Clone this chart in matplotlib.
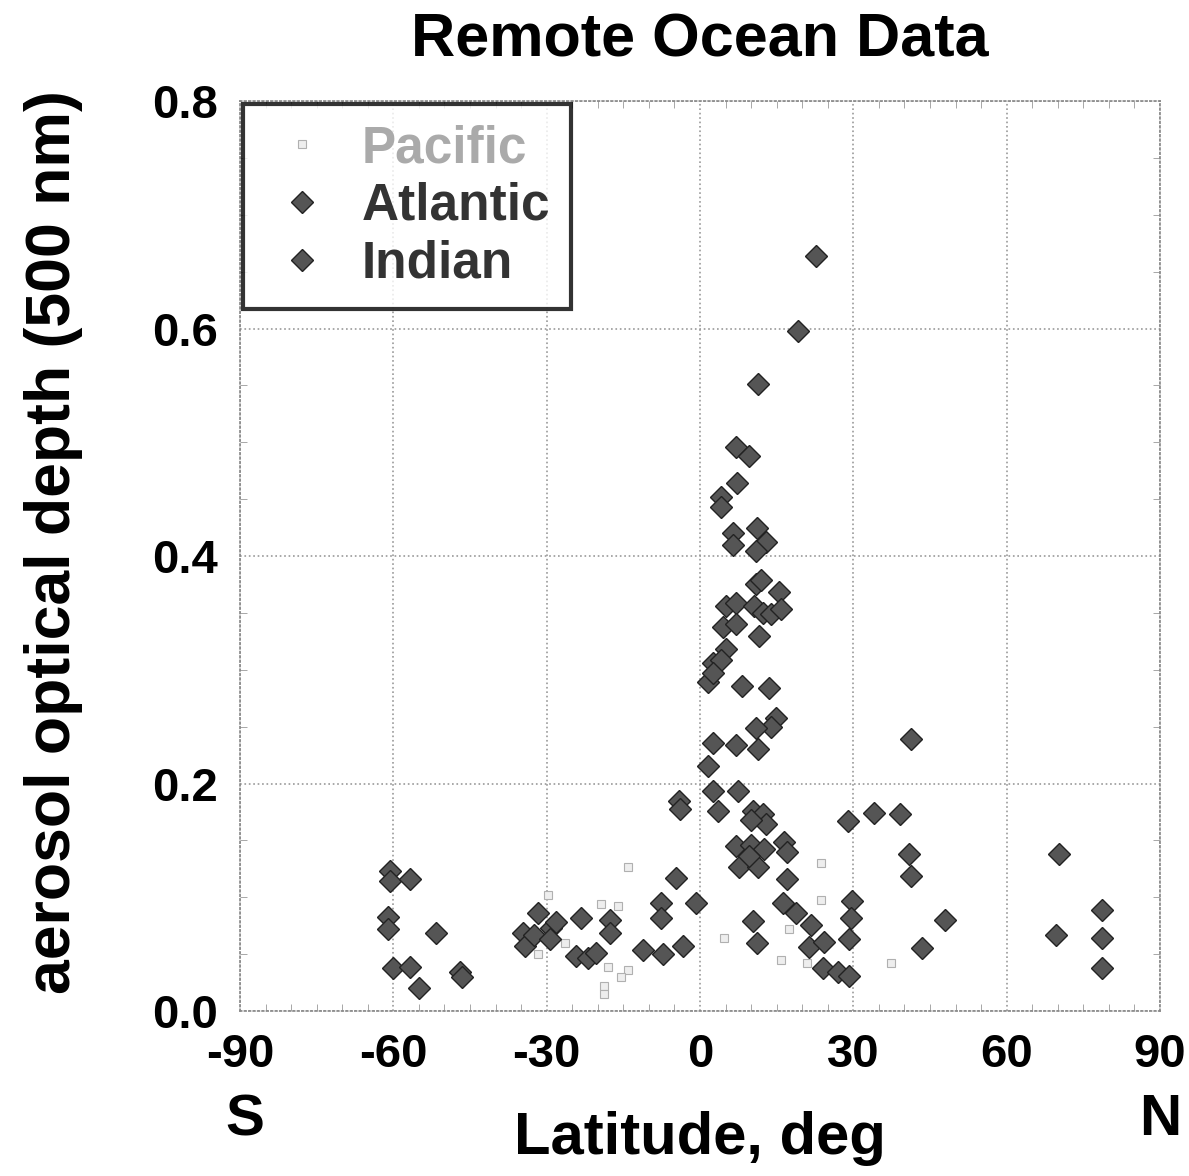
import numpy as np
import matplotlib.pyplot as plt
from matplotlib.ticker import MultipleLocator

plt.rcParams['font.family'] = ['Liberation Sans', 'DejaVu Sans']
plt.rcParams['font.weight'] = 'bold'
plt.rcParams['axes.unicode_minus'] = False

# Pacific: latitude (deg), optical depth
pac_lat = [-29.8, -19.3, -16.1, -26.5, -31.7, -18.0, -18.7, -18.7, -14.1, -14.1,
           -15.5, 4.7, 23.6, 23.6, 15.8, 21.0, 17.4, 37.3]
pac_aod = [0.102, 0.094, 0.092, 0.060, 0.050, 0.039, 0.022, 0.015, 0.036, 0.127,
           0.030, 0.064, 0.130, 0.098, 0.045, 0.042, 0.072, 0.042]

# Atlantic
atl_lat = [-4.7, -7.6, -7.6, -11.2, -7.3, -3.4, -0.8, -4.1, -3.9,
           22.7, 19.2, 11.4, 7.0, 9.6, 7.2, 4.1, 4.1, 6.4, 6.4,
           5.1, 7.0, 4.4, 7.0, 5.1, 2.5, 4.1, 1.5, 2.5, 8.3,
           2.5, 7.0, 1.5, 2.5, 7.4, 3.5, 7.0, 7.7, 10.3, 11.2,
           28.9, 29.8, 29.5, 29.2, 34.1, 39.1, 41.2, 40.9, 41.2, 47.9, 43.5,
           70.2, 69.6, 78.7, 78.7, 78.7]
atl_aod = [0.117, 0.095, 0.082, 0.054, 0.050, 0.057, 0.095, 0.185, 0.178,
           0.664, 0.598, 0.551, 0.496, 0.488, 0.464, 0.452, 0.443, 0.420, 0.410,
           0.356, 0.359, 0.338, 0.340, 0.318, 0.306, 0.309, 0.289, 0.297, 0.286,
           0.236, 0.234, 0.215, 0.193, 0.193, 0.176, 0.145, 0.127, 0.079, 0.060,
           0.167, 0.097, 0.082, 0.063, 0.174, 0.173, 0.239, 0.138, 0.119, 0.080, 0.055,
           0.138, 0.067, 0.089, 0.064, 0.038]

# Indian
ind_lat = [-60.7, -60.7, -56.8, -61.0, -61.0, -51.6, -60.1, -56.8, -54.9, -47.0, -46.5,
           -31.7, -34.6, -34.3, -32.4, -29.1, -29.4, -28.1, -23.3, -24.2, -21.9, -20.3,
           -17.7, -17.7,
           11.1, 12.9, 10.9, 10.9, 11.9, 15.5, 10.6, 12.3, 13.9, 15.8, 11.6, 13.5,
           14.9, 13.9, 10.9, 11.3, 10.3, 12.3, 12.9, 10.0, 10.0, 12.6, 11.3, 9.6,
           16.5, 17.0, 17.0, 16.2, 18.8, 21.7, 21.4, 24.3, 24.0, 26.9, 29.2]
ind_aod = [0.123, 0.114, 0.116, 0.083, 0.072, 0.069, 0.038, 0.039, 0.020, 0.034, 0.030,
           0.086, 0.069, 0.057, 0.067, 0.073, 0.063, 0.078, 0.082, 0.048, 0.047, 0.051,
           0.080, 0.069,
           0.425, 0.412, 0.404, 0.375, 0.379, 0.368, 0.356, 0.350, 0.349, 0.353, 0.330, 0.284,
           0.258, 0.250, 0.249, 0.230, 0.176, 0.173, 0.164, 0.168, 0.146, 0.142, 0.127, 0.136,
           0.149, 0.140, 0.116, 0.095, 0.086, 0.076, 0.056, 0.061, 0.038, 0.034, 0.031]

fig = plt.figure(figsize=(11.89, 11.76), dpi=100)
ax = fig.add_axes([0.2019, 0.1403, 0.7737, 0.7738])

p1, = ax.plot(pac_lat, pac_aod, 's', ms=6, mfc='#eeeeee', mec='#b0b0b0', mew=0.8,
              linestyle='none', label='Pacific')
p2, = ax.plot(atl_lat, atl_aod, 'D', ms=11.5, mfc='#555555', mec='#222222', mew=1.0,
              linestyle='none', label='Atlantic')
p3, = ax.plot(ind_lat, ind_aod, 'D', ms=11.5, mfc='#555555', mec='#222222', mew=1.0,
              linestyle='none', label='Indian')

ax.set_xlim(-90, 90)
ax.set_ylim(0, 0.8)
ax.xaxis.set_major_locator(MultipleLocator(30))
ax.xaxis.set_minor_locator(MultipleLocator(5))
ax.yaxis.set_major_locator(MultipleLocator(0.2))
ax.yaxis.set_minor_locator(MultipleLocator(0.05))
ax.yaxis.set_major_formatter(plt.FormatStrFormatter('%.1f'))
ax.grid(True, which='major', linestyle=':', color='#999999', linewidth=1.2)
ax.set_axisbelow(True)
for s in ax.spines.values():
    s.set_linestyle(':')
    s.set_color('#888888')
    s.set_linewidth(1.2)
ax.tick_params(which='both', direction='in', colors='#999999', labelcolor='black',
               top=True, right=True)
ax.tick_params(which='major', length=0, labelsize=34, pad=16)
ax.tick_params(which='minor', length=5)
for lab in ax.get_xticklabels() + ax.get_yticklabels():
    lab.set_fontweight('bold')

ax.set_title('Remote Ocean Data', fontsize=44, fontweight='bold', pad=32)
ax.set_ylabel('aerosol optical depth (500 nm)', fontsize=45, fontweight='bold', labelpad=50)
ax.yaxis.label.set_y(0.515)
ax.set_xlabel('Latitude, deg', fontsize=43, fontweight='bold', labelpad=24)
ax.text(0.005, -0.12, 'S', transform=ax.transAxes, fontsize=42, fontweight='bold',
        ha='center', va='center')
ax.text(1.0, -0.12, 'N', transform=ax.transAxes, fontsize=42, fontweight='bold',
        ha='center', va='center')

leg = ax.legend(handles=[p1, p2, p3], loc='upper left', fontsize=37, frameon=True,
                fancybox=False, borderaxespad=0.05, handletextpad=0.42,
                handlelength=1.5, borderpad=0.4, labelspacing=0.17, markerscale=1.0)
leg.get_frame().set_edgecolor('black')
leg.get_frame().set_linewidth(3)
leg.get_texts()[0].set_color('#aaaaaa')
leg.get_texts()[1].set_color('#333333')
leg.get_texts()[2].set_color('#333333')

fig.savefig('out.png', dpi=100)
